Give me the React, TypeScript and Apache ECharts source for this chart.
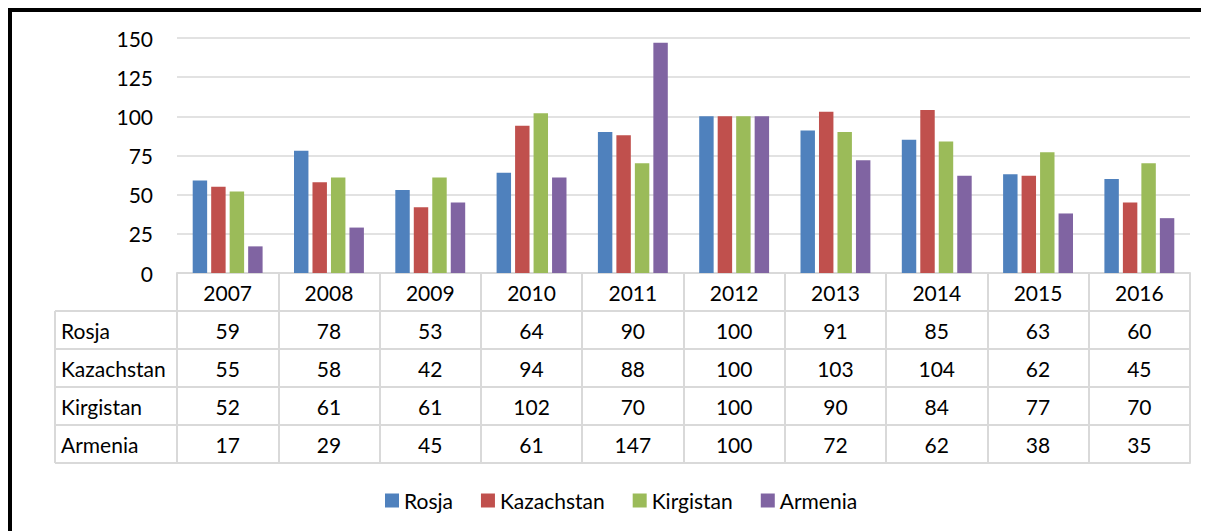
import React, { useEffect, useRef } from "react";
import * as echarts from "echarts";

const categories = ["2007", "2008", "2009", "2010", "2011", "2012", "2013", "2014", "2015", "2016"];
const seriesNames = ["Rosja", "Kazachstan", "Kirgistan", "Armenia"];
const rosja = [59, 78, 53, 64, 90, 100, 91, 85, 63, 60];
const kazachstan = [55, 58, 42, 94, 88, 100, 103, 104, 62, 45];
const kirgistan = [52, 61, 61, 102, 70, 100, 90, 84, 77, 70];
const armenia = [17, 29, 45, 61, 147, 100, 72, 62, 38, 35];
const colors = ["#4F81BD", "#C0504D", "#9BBB59", "#8064A2"];

const FONT = "Lato";
const FS = 21;
const LINE = "#D9D9D9";

export default function App() {
  const ref = useRef<HTMLDivElement>(null);
  useEffect(() => {
    document.documentElement.style.overflow = "hidden";
    document.body.style.overflow = "hidden";
    if (!ref.current) return;
    const chart = echarts.init(ref.current, null, { renderer: "svg" });
    const rows = [rosja, kazachstan, kirgistan, armenia];
    const H = 519;
    const gridLeft = 165;
    const gridRight = 19;
    const gridTop = 26;
    const gridBottom = 258;
    const axisY = H - gridBottom;
    const rowH = 38;
    const tableLeft = 43;

    const extraAxes = [1, 2, 3, 4, 5].map((k) => ({
      type: "category",
      gridIndex: 0,
      position: "bottom",
      offset: rowH * k,
      data: categories,
      axisLine: { show: true, lineStyle: { color: LINE, width: 2 } },
      axisTick: { show: false },
      splitLine: { show: false },
      axisLabel: {
        show: k <= 4,
        interval: 0,
        margin: 19,
        verticalAlign: "middle",
        fontFamily: FONT,
        fontSize: FS,
        color: "#000",
        formatter: (_v: string, i: number) => (k <= 4 ? String(rows[k - 1][i]) : ""),
      },
    }));

    const graphics: any[] = [];
    for (let k = 1; k <= 5; k++) {
      const y = axisY + rowH * k;
      graphics.push({
        type: "line",
        shape: { x1: tableLeft, y1: y, x2: gridLeft, y2: y },
        style: { stroke: LINE, lineWidth: 2 },
      });
    }
    graphics.push({
      type: "line",
      shape: { x1: tableLeft, y1: axisY + rowH, x2: tableLeft, y2: axisY + rowH * 5 },
      style: { stroke: LINE, lineWidth: 2 },
    });
    seriesNames.forEach((n, i) => {
      graphics.push({
        type: "text",
        x: tableLeft + 6,
        y: axisY + rowH * (i + 1) + 19,
        style: {
          text: n,
          font: `${FS}px ${FONT}`,
          fill: "#000",
          verticalAlign: "middle",
          align: "left",
        },
      });
    });

    chart.setOption({
      animation: false,
      backgroundColor: "#fff",
      color: colors,
      textStyle: { fontFamily: FONT },
      grid: { left: gridLeft, right: gridRight, top: gridTop, bottom: gridBottom, containLabel: false },
      legend: {
        data: seriesNames,
        left: 368,
        top: 473,
        icon: "rect",
        itemWidth: 14,
        itemHeight: 14,
        itemGap: 28,
        textStyle: { fontFamily: FONT, fontSize: FS, color: "#000" },
      },
      xAxis: [
        {
          type: "category",
          data: categories,
          position: "bottom",
          axisLine: { show: true, lineStyle: { color: LINE, width: 2 } },
          axisTick: { show: true, interval: 0, length: rowH * 5, lineStyle: { color: LINE, width: 2 } },
          axisLabel: {
            interval: 0,
            margin: 19,
            verticalAlign: "middle",
            fontFamily: FONT,
            fontSize: FS,
            color: "#000",
          },
          splitLine: { show: false },
        },
        ...extraAxes,
      ],
      yAxis: {
        type: "value",
        min: 0,
        max: 150,
        interval: 25,
        axisLine: { show: false },
        axisTick: { show: false },
        axisLabel: { margin: 24, fontFamily: FONT, fontSize: FS, color: "#000" },
        splitLine: { lineStyle: { color: LINE, width: 1.5 } },
      },
      series: [
        { name: seriesNames[0], type: "bar", data: rosja, barGap: "28%", barCategoryGap: "31%" },
        { name: seriesNames[1], type: "bar", data: kazachstan, barGap: "28%", barCategoryGap: "31%" },
        { name: seriesNames[2], type: "bar", data: kirgistan, barGap: "28%", barCategoryGap: "31%" },
        { name: seriesNames[3], type: "bar", data: armenia, barGap: "28%", barCategoryGap: "31%" },
      ],
      graphic: graphics,
    });
    return () => chart.dispose();
  }, []);
  return (
    <div
      style={{
        width: 1201,
        height: 523,
        boxSizing: "border-box",
        borderTop: "4px solid #000",
        borderLeft: "4px solid #000",
        background: "#fff",
      }}
    >
      <div ref={ref} style={{ width: 1197, height: 519 }} />
    </div>
  );
}
